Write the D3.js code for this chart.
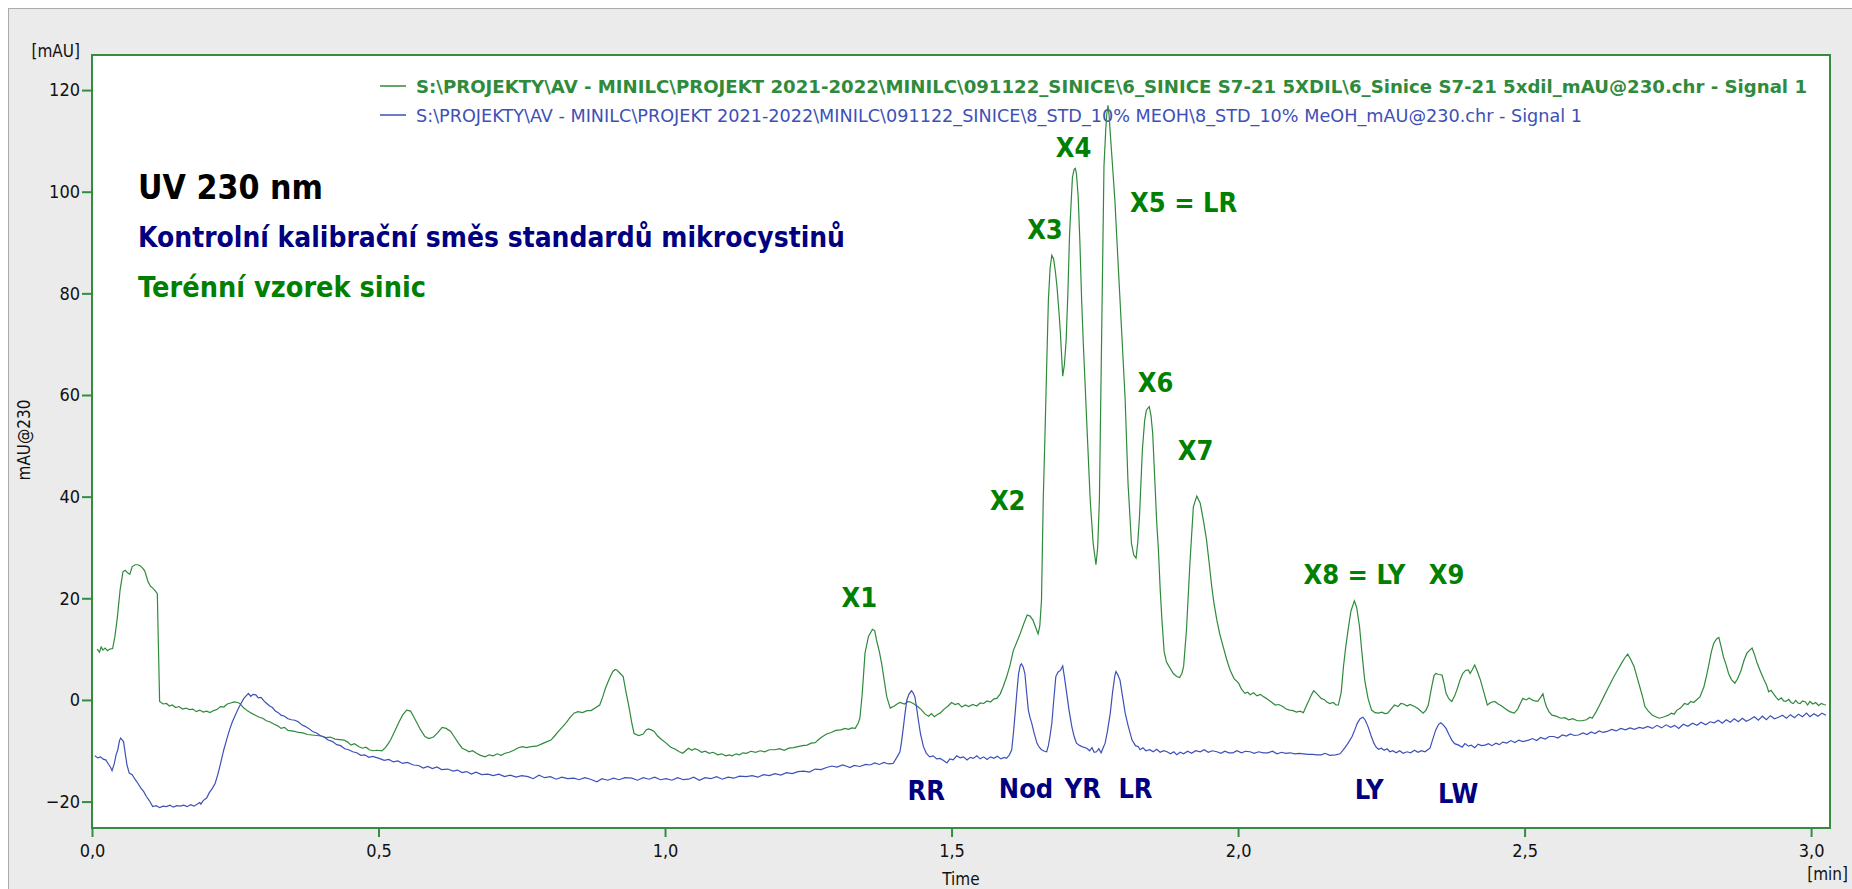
<!DOCTYPE html>
<html><head><meta charset="utf-8">
<script src="https://cdn.jsdelivr.net/npm/d3@7/dist/d3.min.js"></script>
<style>html,body{margin:0;padding:0;background:#fff;overflow:hidden}</style>
</head><body>
<svg id="c" width="1852" height="889"></svg>
<script>
// ---------------- DATA ----------------
const legendLabels = [
  "S:\\PROJEKTY\\AV - MINILC\\PROJEKT 2021-2022\\MINILC\\091122_SINICE\\6_SINICE S7-21 5XDIL\\6_Sinice S7-21 5xdil_mAU@230.chr - Signal 1",
  "S:\\PROJEKTY\\AV - MINILC\\PROJEKT 2021-2022\\MINILC\\091122_SINICE\\8_STD_10% MEOH\\8_STD_10% MeOH_mAU@230.chr - Signal 1"
];
const titleLines = ["UV 230 nm", "Kontrolní kalibrační směs standardů mikrocystinů", "Terénní vzorek sinic"];
const yTicks = [-20, 0, 20, 40, 60, 80, 100, 120];
const xTicks = [0, 0.5, 1.0, 1.5, 2.0, 2.5, 3.0];
const yAxisTitle = "mAU@230", yUnit = "[mAU]", xAxisTitle = "Time", xUnit = "[min]";

// green: field sample (time [min], mAU)
const greenTrace = [
[0.009,10.0],[0.013,9.4],[0.016,10.4],[0.019,9.8],[0.023,10.2],[0.027,9.7],[0.031,10.0],[0.036,10.1],[0.040,12.5],[0.044,16.0],
[0.049,21.6],[0.054,25.2],[0.058,25.5],[0.062,25.0],[0.066,24.7],[0.070,26.2],[0.075,26.6],[0.080,26.6],[0.084,26.4],[0.088,26.0],
[0.092,25.4],[0.098,23.2],[0.102,22.4],[0.106,22.0],[0.110,21.5],[0.114,20.9],[0.116,10.0],[0.118,-0.3],[0.124,-0.8],[0.130,-0.7],
[0.135,-1.2],[0.140,-1.0],[0.146,-1.5],[0.152,-1.3],[0.158,-1.8],[0.164,-1.6],[0.170,-1.9],[0.176,-1.8],[0.182,-2.3],[0.188,-2.0],
[0.194,-2.4],[0.200,-2.2],[0.206,-2.5],[0.212,-2.1],[0.218,-1.9],[0.224,-1.3],[0.230,-1.4],[0.236,-0.8],[0.242,-0.6],[0.248,-0.4],
[0.254,-0.5],[0.258,-0.7],[0.265,-1.6],[0.272,-2.2],[0.278,-2.6],[0.285,-3.0],[0.292,-3.4],[0.298,-3.6],[0.304,-4.1],[0.310,-4.3],
[0.318,-4.8],[0.324,-5.1],[0.330,-5.6],[0.336,-5.4],[0.342,-6.0],[0.348,-6.1],[0.354,-6.2],[0.360,-6.4],[0.368,-6.5],[0.376,-6.8],
[0.384,-6.9],[0.392,-7.0],[0.400,-7.1],[0.408,-7.4],[0.416,-7.3],[0.424,-7.7],[0.432,-7.8],[0.440,-7.9],[0.446,-8.3],[0.452,-8.9],
[0.458,-8.6],[0.466,-9.2],[0.472,-9.5],[0.478,-9.3],[0.484,-9.8],[0.490,-10.0],[0.498,-9.9],[0.506,-10.0],[0.512,-9.4],[0.517,-8.6],
[0.521,-7.9],[0.528,-6.2],[0.536,-4.3],[0.542,-3.0],[0.549,-2.0],[0.556,-2.2],[0.561,-3.2],[0.566,-4.3],[0.573,-5.8],[0.581,-7.2],
[0.588,-7.6],[0.596,-7.3],[0.603,-6.5],[0.611,-5.4],[0.618,-5.6],[0.626,-6.2],[0.633,-7.4],[0.640,-8.6],[0.646,-9.5],[0.652,-9.8],
[0.658,-10.2],[0.664,-10.0],[0.671,-10.5],[0.678,-10.9],[0.686,-11.2],[0.693,-10.8],[0.700,-11.0],[0.707,-10.6],[0.714,-10.9],[0.721,-10.5],
[0.728,-10.3],[0.736,-9.9],[0.744,-9.4],[0.751,-9.2],[0.758,-9.4],[0.766,-9.2],[0.776,-9.1],[0.784,-8.7],[0.792,-8.3],[0.801,-7.9],
[0.808,-7.0],[0.814,-6.2],[0.821,-5.3],[0.828,-4.4],[0.834,-3.5],[0.841,-2.6],[0.848,-2.3],[0.856,-2.5],[0.864,-2.1],[0.871,-2.1],
[0.878,-1.6],[0.886,-1.0],[0.891,0.5],[0.896,2.3],[0.903,4.2],[0.909,5.6],[0.913,6.0],[0.916,5.9],[0.921,5.3],[0.927,4.6],
[0.932,1.5],[0.937,-1.3],[0.942,-4.5],[0.946,-6.6],[0.954,-7.0],[0.962,-6.7],[0.967,-5.9],[0.971,-5.7],[0.976,-5.9],[0.981,-6.2],
[0.987,-7.1],[0.994,-7.8],[1.002,-8.5],[1.010,-9.3],[1.018,-9.7],[1.025,-10.2],[1.031,-10.5],[1.036,-10.0],[1.041,-9.5],[1.047,-9.9],
[1.052,-9.6],[1.057,-9.8],[1.064,-10.3],[1.070,-10.1],[1.077,-10.5],[1.084,-10.3],[1.092,-10.8],[1.099,-10.6],[1.106,-11.0],[1.112,-10.8],
[1.117,-11.0],[1.124,-10.6],[1.130,-10.8],[1.136,-10.4],[1.142,-10.5],[1.150,-10.1],[1.158,-10.3],[1.166,-10.0],[1.174,-10.2],[1.182,-9.8],
[1.192,-9.8],[1.200,-9.6],[1.208,-9.9],[1.216,-9.5],[1.224,-9.4],[1.232,-9.2],[1.240,-9.0],[1.248,-8.9],[1.255,-8.5],[1.262,-8.4],
[1.268,-7.8],[1.275,-7.2],[1.282,-6.7],[1.290,-6.4],[1.298,-6.0],[1.307,-5.9],[1.314,-5.6],[1.320,-5.8],[1.326,-5.5],[1.332,-5.6],
[1.337,-4.6],[1.340,-3.6],[1.344,1.0],[1.349,9.2],[1.355,12.5],[1.362,13.9],[1.366,13.6],[1.369,11.8],[1.374,9.5],[1.378,7.2],
[1.383,3.5],[1.387,0.6],[1.393,-1.6],[1.400,-1.2],[1.405,-0.8],[1.410,-0.5],[1.418,-0.8],[1.424,-0.3],[1.430,-0.5],[1.436,-0.9],
[1.442,-1.4],[1.448,-2.0],[1.454,-2.8],[1.460,-3.2],[1.465,-2.7],[1.470,-3.3],[1.476,-2.8],[1.480,-2.6],[1.487,-1.8],[1.494,-1.2],
[1.500,-0.5],[1.506,-0.9],[1.512,-0.7],[1.518,-1.4],[1.524,-1.0],[1.530,-1.3],[1.537,-0.9],[1.544,-1.2],[1.550,-0.6],[1.556,-0.7],
[1.562,-0.2],[1.568,-0.4],[1.574,0.2],[1.579,0.3],[1.585,1.2],[1.590,2.6],[1.596,4.5],[1.602,6.8],[1.608,9.8],[1.614,11.4],
[1.620,13.1],[1.626,15.0],[1.632,16.7],[1.637,16.5],[1.642,15.7],[1.647,14.2],[1.651,13.0],[1.654,14.5],[1.657,19.7],[1.660,39.3],
[1.663,52.0],[1.666,65.6],[1.669,78.7],[1.672,85.0],[1.675,87.5],[1.678,86.8],[1.681,84.5],[1.684,81.3],[1.687,77.0],[1.690,72.2],
[1.694,63.7],[1.697,66.0],[1.700,70.8],[1.703,80.0],[1.706,91.8],[1.709,98.5],[1.711,102.9],[1.714,104.4],[1.716,104.6],[1.718,103.5],
[1.721,99.0],[1.724,90.0],[1.727,78.7],[1.730,70.0],[1.733,62.3],[1.737,52.0],[1.742,39.3],[1.747,31.0],[1.752,26.6],[1.755,30.0],
[1.758,39.3],[1.762,72.2],[1.766,105.0],[1.769,112.0],[1.771,115.4],[1.773,117.0],[1.775,115.0],[1.777,111.5],[1.781,105.0],[1.785,98.4],
[1.791,85.2],[1.797,72.2],[1.803,59.0],[1.808,42.6],[1.814,30.8],[1.818,28.5],[1.822,27.9],[1.825,31.0],[1.828,36.1],[1.833,49.2],
[1.837,55.0],[1.840,57.0],[1.845,57.7],[1.848,56.0],[1.851,52.5],[1.855,42.6],[1.858,35.0],[1.861,29.5],[1.864,22.0],[1.867,16.0],
[1.871,9.5],[1.875,7.5],[1.880,6.5],[1.887,5.2],[1.893,4.6],[1.898,4.4],[1.902,5.2],[1.905,6.6],[1.910,13.8],[1.916,26.9],
[1.922,38.0],[1.928,40.1],[1.934,38.7],[1.940,35.0],[1.945,31.5],[1.950,26.5],[1.954,22.4],[1.958,19.0],[1.963,15.7],[1.968,13.0],
[1.974,10.5],[1.980,8.0],[1.986,5.9],[1.993,4.2],[2.001,3.3],[2.006,2.1],[2.012,1.3],[2.017,1.5],[2.021,1.0],[2.027,1.4],
[2.033,0.8],[2.039,1.1],[2.045,0.6],[2.051,0.2],[2.058,-0.4],[2.065,-1.0],[2.071,-0.9],[2.078,-1.3],[2.084,-1.8],[2.090,-2.0],
[2.096,-2.1],[2.102,-2.4],[2.108,-2.2],[2.114,-2.5],[2.119,-1.2],[2.124,0.0],[2.128,1.0],[2.132,1.8],[2.137,1.3],[2.141,0.8],
[2.145,0.3],[2.150,0.1],[2.155,-0.4],[2.160,-0.7],[2.166,-0.5],[2.171,-1.0],[2.175,-1.0],[2.180,1.5],[2.184,6.6],[2.188,10.5],
[2.192,13.8],[2.197,17.5],[2.203,19.5],[2.207,18.2],[2.212,14.4],[2.216,9.5],[2.221,3.9],[2.227,0.2],[2.233,-2.0],[2.239,-2.5],
[2.245,-2.6],[2.251,-2.4],[2.256,-2.7],[2.261,-2.6],[2.267,-1.8],[2.273,-1.0],[2.279,-1.3],[2.284,-0.7],[2.289,-0.8],[2.295,-1.2],
[2.300,-0.9],[2.308,-1.3],[2.315,-1.8],[2.323,-2.6],[2.328,-2.0],[2.332,-1.0],[2.338,2.6],[2.342,4.8],[2.345,5.2],[2.350,5.0],
[2.356,4.9],[2.360,3.0],[2.363,1.3],[2.368,0.2],[2.373,-0.3],[2.378,0.8],[2.382,2.0],[2.387,3.8],[2.392,5.2],[2.397,5.8],
[2.402,5.9],[2.405,5.2],[2.409,6.0],[2.413,6.9],[2.418,5.5],[2.423,3.9],[2.429,1.5],[2.435,-1.0],[2.441,-0.5],[2.448,-0.3],
[2.454,-0.8],[2.460,-1.2],[2.467,-1.8],[2.474,-2.3],[2.482,-2.6],[2.488,-1.8],[2.493,-0.6],[2.497,0.3],[2.503,0.0],[2.508,0.4],
[2.513,0.0],[2.518,-0.2],[2.523,-0.3],[2.528,0.5],[2.532,1.2],[2.535,-0.2],[2.538,-1.3],[2.543,-2.4],[2.548,-3.0],[2.555,-3.2],
[2.563,-3.6],[2.570,-3.5],[2.577,-3.9],[2.584,-3.7],[2.592,-4.1],[2.600,-4.1],[2.608,-3.9],[2.614,-3.4],[2.618,-3.6],[2.625,-2.3],
[2.631,-1.0],[2.638,0.6],[2.645,2.2],[2.650,3.3],[2.656,4.6],[2.662,5.8],[2.669,7.2],[2.675,8.3],[2.680,9.0],[2.685,8.0],
[2.691,6.6],[2.696,4.6],[2.701,2.6],[2.706,0.6],[2.710,-1.3],[2.716,-2.2],[2.723,-3.0],[2.729,-3.3],[2.735,-3.6],[2.741,-3.4],
[2.746,-3.2],[2.751,-3.0],[2.756,-2.6],[2.761,-2.8],[2.766,-2.0],[2.772,-1.6],[2.779,-0.7],[2.785,-0.9],[2.790,-0.3],[2.795,-0.5],
[2.800,0.0],[2.806,0.6],[2.813,2.6],[2.818,5.0],[2.822,7.2],[2.826,9.5],[2.830,11.1],[2.835,12.0],[2.839,12.3],[2.843,10.5],
[2.847,8.5],[2.852,6.8],[2.856,5.2],[2.861,4.0],[2.867,3.3],[2.872,4.2],[2.878,5.9],[2.883,7.8],[2.888,9.2],[2.893,9.8],
[2.897,10.2],[2.901,9.0],[2.906,7.2],[2.912,5.5],[2.918,3.9],[2.922,3.0],[2.926,1.6],[2.930,1.9],[2.934,1.3],[2.939,0.5],
[2.943,0.0],[2.948,0.4],[2.952,-0.2],[2.956,-0.3],[2.961,0.1],[2.965,-0.5],[2.969,-0.7],[2.973,-0.1],[2.977,-0.6],[2.981,-0.7],
[2.985,-0.2],[2.990,-0.4],[2.994,-1.0],[2.998,-0.3],[3.003,-0.8],[3.008,-0.5],[3.013,-1.1],[3.018,-0.7],[3.022,-0.9],[3.026,-1.0]
];

// blue: calibration standard mix (time [min], mAU)
const blueTrace = [
[0.005,-11.0],[0.010,-11.4],[0.015,-11.2],[0.020,-11.7],[0.024,-11.8],[0.028,-12.5],[0.032,-13.2],[0.035,-13.9],[0.039,-12.5],[0.042,-10.8],
[0.045,-9.8],[0.048,-8.0],[0.050,-7.5],[0.053,-7.9],[0.055,-8.2],[0.058,-10.5],[0.061,-12.8],[0.065,-14.4],[0.070,-14.7],[0.075,-15.6],
[0.080,-16.4],[0.085,-17.3],[0.090,-18.0],[0.095,-19.0],[0.100,-19.8],[0.106,-21.0],[0.112,-20.8],[0.118,-21.2],[0.124,-20.9],[0.130,-21.0],
[0.136,-20.7],[0.142,-21.1],[0.148,-20.8],[0.154,-20.9],[0.160,-20.7],[0.166,-21.0],[0.172,-20.6],[0.178,-20.9],[0.184,-20.5],[0.188,-20.2],
[0.190,-20.5],[0.194,-19.8],[0.200,-19.3],[0.205,-18.2],[0.210,-17.4],[0.215,-16.4],[0.220,-14.5],[0.225,-12.2],[0.230,-9.8],[0.235,-7.8],
[0.240,-5.9],[0.245,-4.3],[0.250,-3.0],[0.255,-1.8],[0.260,-0.7],[0.265,0.3],[0.269,0.8],[0.273,1.3],[0.277,0.7],[0.281,1.1],
[0.286,1.0],[0.290,0.4],[0.295,0.5],[0.300,-0.2],[0.305,-0.7],[0.310,-1.2],[0.315,-1.5],[0.320,-2.2],[0.325,-2.5],[0.330,-3.0],
[0.336,-3.2],[0.342,-3.7],[0.348,-3.9],[0.354,-4.0],[0.360,-4.3],[0.366,-4.9],[0.372,-5.2],[0.378,-5.6],[0.385,-6.2],[0.392,-6.5],
[0.398,-7.0],[0.405,-7.3],[0.412,-7.9],[0.420,-8.2],[0.427,-8.8],[0.434,-9.0],[0.441,-9.6],[0.448,-9.8],[0.455,-10.2],[0.462,-10.4],
[0.469,-10.9],[0.476,-10.8],[0.483,-11.3],[0.490,-11.1],[0.501,-11.5],[0.510,-11.9],[0.518,-11.7],[0.526,-12.2],[0.534,-12.0],[0.542,-12.5],
[0.550,-12.3],[0.561,-12.8],[0.570,-12.9],[0.578,-13.4],[0.586,-13.1],[0.594,-13.5],[0.602,-13.2],[0.610,-13.7],[0.621,-13.6],[0.630,-14.0],
[0.638,-13.8],[0.646,-14.3],[0.654,-14.1],[0.662,-14.6],[0.670,-14.2],[0.680,-14.7],[0.691,-14.6],[0.700,-14.9],[0.710,-14.6],[0.720,-15.1],
[0.730,-14.8],[0.740,-15.2],[0.750,-14.9],[0.761,-15.1],[0.770,-15.5],[0.780,-14.8],[0.790,-15.3],[0.800,-15.1],[0.810,-15.6],[0.820,-15.2],
[0.830,-15.5],[0.841,-15.4],[0.850,-15.7],[0.860,-15.3],[0.870,-15.6],[0.881,-16.1],[0.890,-15.5],[0.900,-15.8],[0.910,-15.4],[0.920,-15.7],
[0.930,-15.3],[0.942,-15.4],[0.952,-15.8],[0.962,-15.3],[0.972,-15.6],[0.982,-15.2],[0.992,-15.7],[1.002,-15.5],[1.012,-15.8],[1.022,-15.3],
[1.032,-15.7],[1.041,-15.6],[1.050,-15.2],[1.060,-15.8],[1.070,-15.3],[1.080,-15.5],[1.090,-15.1],[1.100,-15.6],[1.110,-15.2],[1.120,-15.4],
[1.130,-15.0],[1.142,-15.1],[1.152,-14.9],[1.162,-15.2],[1.172,-14.7],[1.182,-14.9],[1.192,-14.5],[1.202,-14.8],[1.212,-14.3],[1.222,-14.5],
[1.232,-14.1],[1.242,-14.0],[1.252,-14.2],[1.262,-13.6],[1.272,-13.7],[1.282,-13.3],[1.291,-13.0],[1.300,-13.2],[1.310,-12.8],[1.318,-13.1],
[1.323,-13.3],[1.330,-12.9],[1.340,-13.1],[1.350,-12.7],[1.358,-12.8],[1.366,-12.4],[1.374,-12.7],[1.382,-12.3],[1.390,-12.6],[1.398,-12.5],
[1.404,-11.4],[1.410,-10.2],[1.413,-8.0],[1.416,-5.3],[1.419,-2.5],[1.422,0.0],[1.426,1.2],[1.430,1.8],[1.433,1.4],[1.436,0.6],
[1.439,-1.5],[1.442,-3.9],[1.446,-6.8],[1.451,-9.2],[1.456,-10.5],[1.462,-11.2],[1.468,-11.0],[1.474,-11.6],[1.480,-11.5],[1.486,-11.9],
[1.492,-12.4],[1.497,-11.6],[1.503,-11.8],[1.509,-11.0],[1.515,-11.4],[1.521,-11.2],[1.527,-11.8],[1.533,-11.3],[1.538,-11.5],[1.544,-11.0],
[1.550,-11.6],[1.556,-11.2],[1.562,-11.7],[1.568,-11.2],[1.574,-11.5],[1.580,-11.1],[1.586,-11.6],[1.592,-11.3],[1.596,-11.5],[1.601,-10.8],
[1.605,-9.8],[1.608,-6.5],[1.611,-2.6],[1.614,1.5],[1.617,5.2],[1.620,6.8],[1.622,7.1],[1.625,6.5],[1.628,5.2],[1.631,1.5],
[1.634,-2.0],[1.637,-3.5],[1.640,-4.6],[1.644,-6.5],[1.649,-8.5],[1.653,-9.3],[1.657,-9.8],[1.662,-10.1],[1.666,-10.2],[1.669,-9.0],
[1.672,-7.0],[1.675,-4.6],[1.678,-0.5],[1.682,4.6],[1.686,5.5],[1.690,5.8],[1.694,6.7],[1.697,4.5],[1.701,1.3],[1.705,-2.0],
[1.710,-5.3],[1.714,-7.2],[1.718,-8.5],[1.724,-9.0],[1.730,-9.3],[1.736,-9.5],[1.741,-10.0],[1.745,-9.4],[1.749,-10.3],[1.753,-10.2],
[1.757,-9.6],[1.761,-10.4],[1.765,-9.3],[1.768,-8.5],[1.772,-6.2],[1.777,-2.6],[1.781,1.5],[1.785,4.8],[1.787,5.6],[1.790,5.0],
[1.794,3.9],[1.798,1.0],[1.803,-2.6],[1.808,-5.0],[1.815,-7.9],[1.821,-9.0],[1.826,-9.2],[1.829,-9.8],[1.834,-9.4],[1.839,-10.0],
[1.846,-9.8],[1.852,-10.2],[1.858,-9.7],[1.864,-10.3],[1.870,-10.0],[1.876,-10.2],[1.882,-10.6],[1.888,-10.2],[1.893,-10.8],[1.899,-10.3],
[1.905,-10.6],[1.912,-10.1],[1.919,-10.5],[1.926,-10.0],[1.934,-10.2],[1.941,-9.8],[1.948,-10.3],[1.955,-10.0],[1.963,-10.2],[1.970,-10.5],
[1.977,-10.1],[1.984,-10.4],[1.991,-10.4],[1.998,-10.0],[2.006,-10.4],[2.013,-10.1],[2.021,-10.2],[2.028,-10.5],[2.036,-10.2],[2.044,-10.4],
[2.052,-10.4],[2.060,-10.1],[2.068,-10.6],[2.076,-10.3],[2.083,-10.5],[2.091,-10.4],[2.099,-10.6],[2.107,-10.5],[2.114,-10.6],[2.122,-10.7],
[2.130,-10.7],[2.138,-10.8],[2.145,-10.8],[2.152,-10.5],[2.160,-10.9],[2.170,-10.8],[2.178,-10.6],[2.186,-9.5],[2.192,-8.5],[2.199,-7.2],
[2.204,-5.8],[2.208,-4.6],[2.213,-3.7],[2.218,-3.4],[2.222,-4.0],[2.227,-5.3],[2.232,-7.0],[2.237,-8.5],[2.241,-9.3],[2.245,-9.7],
[2.250,-9.5],[2.255,-9.9],[2.260,-9.6],[2.265,-10.2],[2.270,-10.0],[2.276,-10.4],[2.282,-10.0],[2.288,-10.5],[2.295,-10.2],[2.301,-10.4],
[2.308,-9.9],[2.314,-10.3],[2.320,-10.0],[2.326,-10.2],[2.331,-9.8],[2.335,-9.5],[2.339,-8.0],[2.345,-5.9],[2.350,-4.8],[2.354,-4.5],
[2.358,-4.9],[2.363,-5.6],[2.368,-6.8],[2.373,-7.9],[2.378,-8.6],[2.385,-8.9],[2.391,-9.3],[2.396,-8.6],[2.402,-9.1],[2.407,-8.9],
[2.413,-9.4],[2.419,-8.7],[2.425,-9.0],[2.431,-8.9],[2.437,-8.6],[2.443,-9.0],[2.450,-8.5],[2.456,-8.8],[2.462,-8.3],[2.469,-8.5],
[2.476,-8.0],[2.483,-8.4],[2.490,-7.9],[2.497,-8.2],[2.507,-7.9],[2.514,-7.6],[2.521,-8.0],[2.528,-7.4],[2.536,-7.7],[2.543,-7.2],
[2.551,-7.2],[2.558,-7.5],[2.566,-6.9],[2.573,-7.1],[2.580,-6.7],[2.587,-7.0],[2.594,-6.9],[2.602,-6.5],[2.609,-6.8],[2.616,-6.3],
[2.623,-6.6],[2.630,-6.1],[2.637,-6.4],[2.644,-6.2],[2.652,-5.8],[2.660,-6.1],[2.668,-5.6],[2.676,-5.9],[2.684,-5.5],[2.692,-5.8],
[2.700,-5.4],[2.707,-5.6],[2.715,-5.2],[2.723,-5.6],[2.731,-5.0],[2.739,-5.5],[2.747,-4.9],[2.755,-5.4],[2.762,-5.0],[2.769,-5.6],
[2.777,-4.8],[2.785,-5.2],[2.793,-4.6],[2.801,-5.0],[2.808,-4.4],[2.816,-4.9],[2.824,-4.3],[2.831,-4.5],[2.838,-4.0],[2.845,-4.6],
[2.852,-3.9],[2.859,-4.4],[2.866,-3.7],[2.873,-4.3],[2.880,-3.6],[2.887,-4.2],[2.894,-3.8],[2.901,-3.3],[2.908,-4.0],[2.915,-3.2],
[2.922,-3.9],[2.929,-3.1],[2.936,-3.7],[2.943,-3.4],[2.950,-3.0],[2.957,-3.6],[2.964,-2.9],[2.971,-3.5],[2.978,-2.8],[2.985,-3.3],
[2.992,-2.6],[2.998,-3.3],[3.005,-2.7],[3.012,-3.2],[3.019,-2.6],[3.026,-3.0]
];

// peak labels: text, time of label centre, mAU of label centre
const sampleLabels = [
  ["X1",1.339,20.3],["X2",1.598,39.3],["X3",1.663,92.7],["X4",1.713,108.8],["X5 = LR",1.905,98.0],
  ["X6",1.856,62.6],["X7",1.926,49.2],["X8 = LY",2.203,24.8],["X9",2.364,24.8]
];
const standardLabels = [
  ["RR",1.456,-17.8],["Nod",1.630,-17.3],["YR",1.729,-17.3],["LR",1.821,-17.3],["LY",2.229,-17.5],["LW",2.384,-18.3]
];

// ---------------- DRAW ----------------
const svg = d3.select("#c");
const FONT = "'DejaVu Sans', Verdana, sans-serif";
const GREEN_FRAME = "#338c3f", GREEN_LINE = "#2f8a3c", BLUE_LINE = "#3d50b8";
const ANN_GREEN = "#008000", NAVY = "#000080";
const L = 92, T = 55, R = 1830, B = 828;

svg.append("rect").attr("width", 1852).attr("height", 889).attr("fill", "#ffffff");
svg.append("rect").attr("x", 8.5).attr("y", 8.5).attr("width", 1852).attr("height", 889)
   .attr("fill", "#ebebeb").attr("stroke", "#ababab").attr("stroke-width", 1);

const x = d3.scaleLinear().domain([0, 3.033]).range([L, R]);
const y = d3.scaleLinear().domain([-25.2, 126.9]).range([B, T]);

svg.append("rect").attr("x", L).attr("y", T).attr("width", R - L).attr("height", B - T).attr("fill", "#fff");

// axes
const yAxis = d3.axisLeft(y).tickValues(yTicks).tickSize(10).tickPadding(2).tickFormat(d3.format("d"));
const gy = svg.append("g").attr("transform", `translate(${L},0)`).call(yAxis);
const xAxis = d3.axisBottom(x).tickValues(xTicks).tickSize(9).tickFormat(d => d3.format(".1f")(d).replace(".", ","));
const gx = svg.append("g").attr("transform", `translate(0,${B})`).call(xAxis);
[gy, gx].forEach(g => {
  g.select(".domain").remove();
  g.selectAll(".tick line").attr("stroke", GREEN_FRAME).attr("stroke-width", 2);
  g.selectAll(".tick text").attr("fill", "#111").style("font-family", FONT).style("font-size", "18px").style("font-stretch", "condensed");
});
gx.selectAll(".tick text").attr("y", 29).attr("dy", null);

// clip for traces
svg.append("clipPath").attr("id", "clip").append("rect").attr("x", L).attr("y", T).attr("width", R - L).attr("height", B - T);

// helper: fit a text to a target width by adjusting the font size, then pin the exact length
function fitText(sel, baseSize, target) {
  sel.style("font-size", baseSize + "px");
  const natural = sel.node().getComputedTextLength();
  const size = Math.min(baseSize, baseSize * target / natural);
  sel.style("font-size", size.toFixed(2) + "px")
     .attr("textLength", target).attr("lengthAdjust", "spacingAndGlyphs");
}

// legend
const lg = svg.append("g");
const legendColors = [GREEN_LINE, BLUE_LINE];
const legendWeights = ["bold", "normal"];
const legendWidths = [1391, 1166];
legendLabels.forEach((lab, i) => {
  const cy = 86 + i * 29;
  lg.append("line").attr("x1", 380).attr("x2", 406).attr("y1", cy).attr("y2", cy)
    .attr("stroke", legendColors[i]).attr("stroke-width", 1.5);
  const t = lg.append("text").attr("x", 416).attr("y", cy + 7).text(lab)
    .attr("fill", legendColors[i]).style("font-family", FONT)
    .style("font-weight", legendWeights[i]);
  fitText(t, 19, legendWidths[i]);
});

// traces
const line = d3.line().x(d => x(d[0])).y(d => y(d[1]));
const traces = svg.append("g").attr("clip-path", "url(#clip)");
traces.append("path").datum(greenTrace).attr("d", line).attr("fill", "none").attr("stroke", GREEN_LINE).attr("stroke-width", 1.2);
traces.append("path").datum(blueTrace).attr("d", line).attr("fill", "none").attr("stroke", BLUE_LINE).attr("stroke-width", 1.2);

// frame
svg.append("rect").attr("x", L).attr("y", T).attr("width", R - L).attr("height", B - T)
   .attr("fill", "none").attr("stroke", GREEN_FRAME).attr("stroke-width", 2);

// titles (keep full size, compress horizontally to the measured width)
const titleStyles = [
  {y: 199, size: 33, color: "#000", w: 185},
  {y: 247, size: 27.5, color: NAVY, w: 707},
  {y: 297, size: 27.5, color: ANN_GREEN, w: 288}
];
titleLines.forEach((t, i) => {
  const s = titleStyles[i];
  svg.append("text").attr("x", 138).attr("y", s.y).text(t)
    .attr("fill", s.color).style("font-family", FONT).style("font-weight", "bold")
    .style("font-size", s.size + "px")
    .attr("textLength", s.w).attr("lengthAdjust", "spacingAndGlyphs");
});

// peak labels
function drawLabels(arr, color) {
  svg.append("g").selectAll("text").data(arr).join("text")
    .attr("x", d => x(d[1])).attr("y", d => y(d[2]) + 10)
    .attr("text-anchor", "middle").text(d => d[0])
    .attr("fill", color).style("font-family", FONT).style("font-weight", "bold")
    .style("font-size", "27px").style("font-stretch", "condensed");
}
drawLabels(sampleLabels, ANN_GREEN);
drawLabels(standardLabels, NAVY);

// axis titles
const axStyle = sel => sel.attr("fill", "#111").style("font-family", FONT).style("font-size", "17px").style("font-stretch", "condensed");
svg.append("text").attr("x", 80).attr("y", 57).attr("text-anchor", "end").text(yUnit).call(axStyle);
svg.append("text").attr("transform", "translate(30,440) rotate(-90)").attr("text-anchor", "middle").text(yAxisTitle).call(axStyle);
svg.append("text").attr("x", (L + R) / 2).attr("y", 885).attr("text-anchor", "middle").text(xAxisTitle).call(axStyle);
svg.append("text").attr("x", 1848).attr("y", 880).attr("text-anchor", "end").text(xUnit).call(axStyle);
</script>
</body></html>
